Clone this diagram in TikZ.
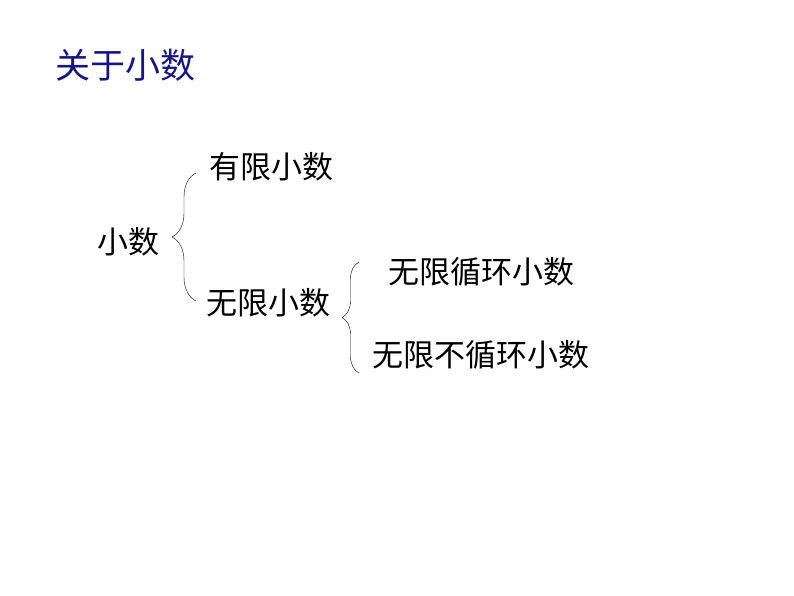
\documentclass[tikz,border=0pt]{standalone}
\usepackage{fontspec}
\setmainfont{Noto Sans CJK SC}
\usepackage{xcolor}
\usetikzlibrary{positioning, decorations.pathreplacing}
\definecolor{titlenavy}{RGB}{22, 22, 128}

\begin{document}
\begin{tikzpicture}[
    x=1pt, y=-1pt,
    every node/.style={inner sep=0pt, anchor=center},
    label/.style={font=\fontsize{31}{31}\selectfont},
    brace/.style={decorate, thin, decoration={brace, amplitude=#1}}
]
\useasboundingbox (0,0) rectangle (794,596);
\node[font=\fontsize{35}{35}\selectfont, text=titlenavy] (title) at (125,65) {关于小数};
\node[label] (xiaoshu) at (128,242) {小数};
\node[label] (youxian) at (271,167) {有限小数};
\node[label] (wuxian) at (268,303) {无限小数};
\node[label] (xunhuan) at (481,272) {无限循环小数};
\node[label] (buxunhuan) at (481,355) {无限不循环小数};
% braces
\coordinate (b1low) at (196,301);
\coordinate (b1high) at (196,173);
\coordinate (b2low) at (359,373);
\coordinate (b2high) at (359,262);
\draw[brace=24pt] (b1low) -- (b1high);
\draw[brace=17pt] (b2low) -- (b2high);
\end{tikzpicture}
\end{document}
